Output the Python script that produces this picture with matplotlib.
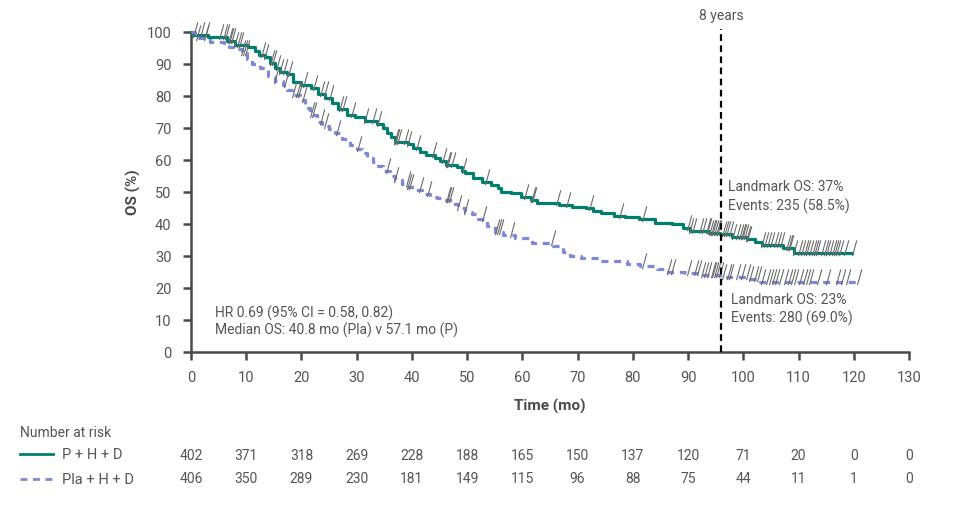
import numpy as np
import matplotlib
matplotlib.use("Agg")
import matplotlib.pyplot as plt
from matplotlib.path import Path
from matplotlib.lines import Line2D
from matplotlib.transforms import blended_transform_factory

# P + H + D (step times in months, OS % after each step)
ph_times = [0, 0.4, 3.1, 6.5, 8.0, 10.3, 11.6, 12.3, 13.4, 14.3, 15.2, 16.1, 17.3, 18.5, 20.0,
            21.8, 23.0, 24.3, 25.5, 26.6, 28.3, 29.7, 31.5, 33.6, 34.8, 35.4, 36.3, 36.9, 39.3,
            40.2, 41.5, 42.6, 44.2, 45.1, 46.2, 48.1, 49.0, 49.6, 51.1, 52.6, 54.4, 55.6, 56.2,
            57.9, 59.7, 61.5, 62.7, 66.7, 68.9, 71.5, 72.8, 74.2, 76.5, 78.6, 81.2, 84.0, 87.1,
            89.1, 90.3, 93.7, 95.8, 97.9, 100.6, 102.1, 103.3, 107.2, 109.1, 119.7]
ph_os = [100, 99.1, 98.3, 97.2, 96.0, 95.2, 94.0, 92.8, 92.1, 90.4, 88.6, 87.6, 86.9, 84.5, 83.4,
         82.4, 80.6, 79.3, 77.8, 75.8, 74.0, 73.3, 72.3, 71.4, 69.9, 68.5, 67.3, 65.7, 64.9,
         63.6, 62.6, 61.6, 60.5, 59.7, 58.4, 57.9, 56.7, 55.8, 54.3, 53.0, 52.2, 51.1, 50.1,
         49.6, 48.3, 47.5, 46.5, 45.9, 45.4, 44.9, 44.2, 43.3, 42.6, 42.3, 41.5, 40.4, 39.9,
         38.9, 37.8, 37.1, 36.8, 36.0, 35.3, 34.5, 33.4, 32.4, 30.8, 30.8]
ph_censor = [0.5, 1.9, 2.8, 5.3, 5.9, 6.3, 6.8, 7.1, 7.5, 8.0, 8.6, 8.9, 12.8, 13.4, 14.5, 14.8,
             15.6, 16.2, 16.8, 17.7, 20.4, 22.2, 23.6, 24.2, 25.1, 26.9, 27.6, 29.1, 31.5, 33.0,
             33.9, 36.9, 37.2, 37.5, 38.7, 39.3, 40.9, 43.9, 45.7, 46.3, 46.6, 47.2, 49.3, 53.5,
             60.5, 61.7, 62.0, 66.2, 68.0, 72.2, 77.7, 81.9, 90.05, 90.35, 90.96, 92.16, 92.77,
             93.37, 93.67, 93.97, 94.28, 94.58, 94.88, 95.18, 95.48, 96.39, 96.69, 96.99, 97.59,
             98.2, 98.8, 99.4, 99.7, 100.0, 100.3, 100.6, 100.9, 103.3, 103.9, 104.5, 105.1,
             105.7, 106.3, 106.9, 107.9, 108.2, 108.5, 109.1, 110.0, 110.6, 111.2, 111.5, 112.1,
             112.7, 113.0, 113.3, 114.2, 114.8, 115.1, 115.7, 116.3, 116.6, 116.9, 117.5, 118.4,
             119.9]

# Pla + H + D
pl_times = [0, 0.7, 3.4, 5.9, 6.8, 8.0, 9.2, 10.1, 11.0, 12.5, 14.0, 15.2, 16.7, 17.3, 18.2,
            19.7, 20.6, 21.5, 22.8, 23.7, 24.9, 26.1, 27.3, 28.8, 30.0, 30.9, 31.8, 33.0, 33.8,
            34.8, 36.0, 36.9, 38.2, 39.3, 40.6, 41.8, 43.2, 44.5, 45.8, 47.2, 48.4, 49.6, 50.8,
            52.0, 53.6, 55.0, 56.5, 58.7, 61.7, 65.6, 67.4, 68.6, 70.7, 74.1, 78.9, 81.3, 84.3,
            86.4, 89.4, 92.2, 96.1, 101.2, 103.0, 120.8]
pl_os = [100, 98.0, 97.0, 96.5, 95.4, 94.6, 93.3, 91.5, 89.9, 88.6, 86.3, 84.8, 83.4, 81.9, 80.3,
         78.7, 76.2, 74.1, 72.0, 70.6, 69.6, 68.5, 66.6, 64.7, 63.3, 62.1, 60.5, 59.5, 58.0,
         56.6, 55.0, 53.8, 52.4, 51.7, 50.6, 49.4, 48.5, 48.0, 47.5, 46.2, 44.9, 43.8, 43.0,
         41.6, 39.4, 37.6, 36.6, 35.5, 34.2, 33.1, 31.3, 30.0, 29.3, 28.5, 27.5, 26.9, 25.8,
         25.1, 24.6, 24.0, 23.3, 22.7, 22.0, 22.0]
pl_censor = [1.0, 2.5, 9.3, 9.6, 10.0, 15.2, 17.0, 18.5, 19.2, 19.6, 20.3, 21.8, 22.1, 23.6, 24.2,
             26.4, 30.3, 35.4, 36.9, 39.05, 39.35, 39.65, 41.5, 43.0, 46.3, 46.6, 46.9, 48.4,
             49.6, 52.9, 55.3, 55.6, 55.9, 58.0, 65.3, 81.9, 86.4, 87.0, 90.05, 91.26, 91.86,
             92.46, 93.07, 93.67, 94.28, 94.58, 94.88, 95.18, 95.78, 96.39, 97.29, 97.59, 98.8,
             99.7, 100.6, 101.2, 102.1, 102.7, 103.3, 104.2, 104.8, 105.4, 106.0, 106.6, 107.6,
             108.2, 108.8, 109.4, 110.3, 110.9, 111.5, 112.1, 113.6, 115.1, 116.9, 117.8, 118.7,
             120.8]

risk_times = [0, 10, 20, 30, 40, 50, 60, 70, 80, 90, 100, 110, 120, 130]
risk_ph = [402, 371, 318, 269, 228, 188, 165, 150, 137, 120, 71, 20, 0, 0]
risk_pl = [406, 350, 289, 230, 181, 149, 115, 96, 88, 75, 44, 11, 1, 0]

landmark = 96

GREEN = "#007f6f"
BLUE = "#7d89d6"
TXT = "#555555"
AX = "#4a4a4a"

plt.rcParams["font.family"] = ["Roboto", "DejaVu Sans"]
narrow = ["Liberation Sans Narrow", "Roboto", "DejaVu Sans"]

fig = plt.figure(figsize=(9.68, 5.09), dpi=100)
ax = fig.add_axes([191 / 968, 1 - 352 / 509, 718 / 968, 320 / 509])


def value_at(times, vals, t):
    i = np.searchsorted(times, t, side="right") - 1
    return np.asarray(vals)[i]


censor_marker = Path([(-0.08, -0.2), (0.25, 1.0)], [Path.MOVETO, Path.LINETO])

ax.step(ph_times, ph_os, where="post", color=GREEN, lw=2.3, clip_on=False, zorder=3)
ax.step(pl_times, pl_os, where="post", color=BLUE, lw=2.3, ls=(0, (2.2, 1.8)),
        clip_on=False, zorder=3)

for times, vals, cens in [(ph_times, ph_os, ph_censor), (pl_times, pl_os, pl_censor)]:
    ys = [value_at(times, vals, c) for c in cens]
    ax.plot(cens, ys, ls="none", marker=censor_marker, markersize=19, mec="#6b6b6b",
            mew=0.8, clip_on=False, zorder=4)

ax.plot([landmark, landmark], [0, 101], color="black", lw=1.6, ls=(0, (3, 2)),
        clip_on=False, zorder=5)
ax.text(landmark, 105, "8 years", ha="center", va="center", fontsize=10, color=TXT)

ax.text(landmark + 1.3, 51.6, "Landmark OS: 37%", fontsize=10, color=TXT, va="center")
ax.text(landmark + 1.3, 45.6, "Events: 235 (58.5%)", fontsize=10, color=TXT, va="center")
ax.text(landmark + 1.8, 16.3, "Landmark OS: 23%", fontsize=10, color=TXT, va="center")
ax.text(landmark + 1.8, 10.6, "Events: 280 (69.0%)", fontsize=10, color=TXT, va="center")

ax.text(4.3, 12.2, "HR 0.69 (95% CI = 0.58, 0.82)", fontsize=10, color=TXT, va="center")
ax.text(4.3, 6.9, "Median OS: 40.8 mo (Pla) v 57.1 mo (P)", fontsize=10, color=TXT,
        va="center")

ax.set_xlim(0, 130)
ax.set_ylim(0, 100)
ax.set_xticks(range(0, 131, 10))
ax.set_yticks(range(0, 101, 10))
for lab in ax.get_xticklabels() + ax.get_yticklabels():
    lab.set_family(narrow)
    lab.set_fontsize(10.5)
    lab.set_color(TXT)
ax.tick_params(direction="out", length=6, width=1.8, color=AX, pad=8)
for side in ["top", "right"]:
    ax.spines[side].set_visible(False)
for side in ["left", "bottom"]:
    ax.spines[side].set_color(AX)
    ax.spines[side].set_linewidth(1.8)

ax.set_xlabel("Time (mo)", family=narrow, fontsize=11, fontweight="bold", color=AX,
              labelpad=10)
ax.set_ylabel("OS (%)", family=narrow, fontsize=11, fontweight="bold", color=AX,
              labelpad=4)

# number at risk table
fig.text(20 / 968, 1 - 433 / 509, "Number at risk", fontsize=10, color=TXT, va="center")
fig.add_artist(Line2D([20 / 968, 53 / 968], [1 - 454 / 509] * 2, color=GREEN, lw=2,
                      transform=fig.transFigure))
fig.add_artist(Line2D([20 / 968, 53 / 968], [1 - 479 / 509] * 2, color=BLUE, lw=2,
                      ls=(0, (2.5, 2)), transform=fig.transFigure))
fig.text(62 / 968, 1 - 455 / 509, "P + H + D", fontsize=10.5, color=TXT, va="center")
fig.text(62 / 968, 1 - 480 / 509, "Pla + H + D", fontsize=10.5, color=TXT, va="center")

trans = blended_transform_factory(ax.transData, fig.transFigure)
for t, a, b in zip(risk_times, risk_ph, risk_pl):
    ax.text(t, 1 - 456 / 509, str(a), transform=trans, ha="center", va="center",
            fontsize=10, color=TXT, clip_on=False)
    ax.text(t, 1 - 479 / 509, str(b), transform=trans, ha="center", va="center",
            fontsize=10, color=TXT, clip_on=False)

fig.savefig("out.png", dpi=100)
